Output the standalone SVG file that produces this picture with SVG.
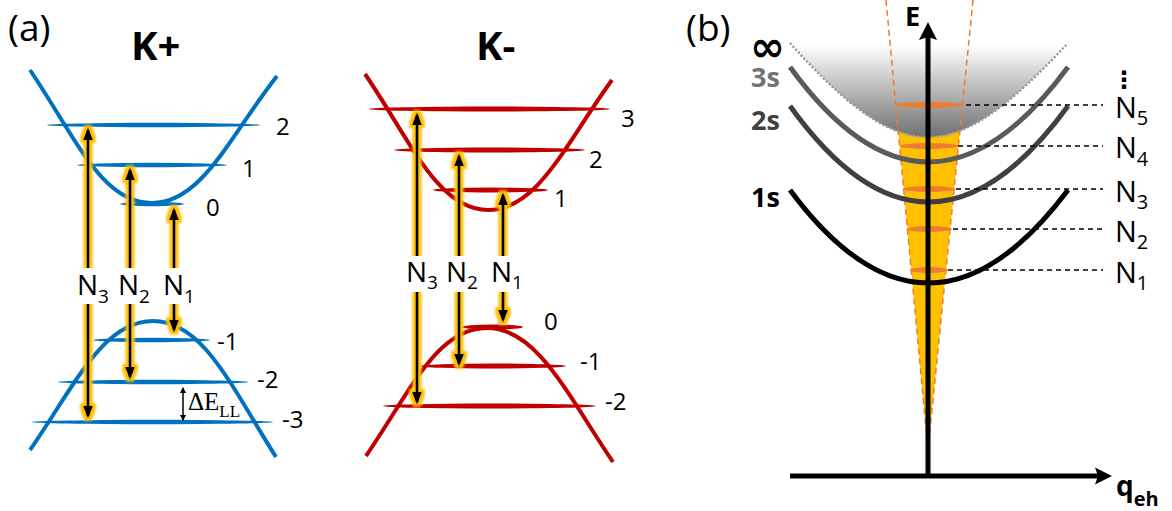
<svg xmlns="http://www.w3.org/2000/svg" width="1172" height="511" viewBox="0 0 1172 511">
<defs>
<style>
text{font-family:"Open Sans","Liberation Sans",sans-serif;fill:#000}
.panel{font-size:37px}
.title{font-size:40px;font-weight:bold}
.lvl{font-size:24px}
.nl{font-size:28px}
.ns{font-size:19px}
.band-b{fill:none;stroke:#0070C0;stroke-width:4}
.band-r{fill:none;stroke:#C00000;stroke-width:4}
.ll-b{fill:#0070C0}
.ll-r{fill:#C00000}
.tr{stroke:#000;stroke-width:3;marker-start:url(#ah);marker-end:url(#ah)}
.lblbg{fill:#fff}
.ex{fill:none;stroke-width:5}
.lead{stroke:#000;stroke-width:1.5;stroke-dasharray:5 4}
.disk{fill:#ED7D31}
.nbl{font-size:29px}
.nbs{font-size:20px}
.sl{font-size:27px;font-weight:bold}
.cone{stroke:#ED7D31;stroke-width:1.5;stroke-dasharray:6 4;fill:none}
</style>
<marker id="ah" markerUnits="userSpaceOnUse" viewBox="0 0 13 10" markerWidth="13" markerHeight="10" refX="10" refY="5" orient="auto-start-reverse"><path d="M0,0 L13,5 L0,10 Z" fill="#000"/></marker>
<marker id="ahs" markerUnits="userSpaceOnUse" viewBox="0 0 6 6" markerWidth="6" markerHeight="6" refX="5" refY="3" orient="auto-start-reverse"><path d="M0,0 L6,3 L0,6 Z" fill="#000"/></marker>
<filter id="glow" filterUnits="userSpaceOnUse" x="0" y="0" width="1172" height="511">
<feMorphology in="SourceAlpha" operator="dilate" radius="2.5" result="d"/>
<feGaussianBlur in="d" stdDeviation="1.3" result="b"/>
<feFlood flood-color="#FFC000" result="f"/>
<feComposite in="f" in2="b" operator="in" result="g"/>
<feMerge><feMergeNode in="g"/><feMergeNode in="SourceGraphic"/></feMerge>
</filter>
<linearGradient id="cont" gradientUnits="userSpaceOnUse" x1="0" y1="45" x2="0" y2="137">
<stop offset="0" stop-color="#fff"/><stop offset="1" stop-color="#707070"/>
</linearGradient>
</defs>
<rect width="1172" height="511" fill="#fff"/>

<!-- Panel (a) -->
<text id="label-a" class="panel" x="8" y="41">(a)</text>

<g id="kplus">
<text class="title" x="131" y="60">K+</text>
<path class="band-b" d="M30,70 C77,140 102,203 152,203 C202,203 230,136 277,76"/>
<path class="band-b" d="M30,450 C75,385 103,321 153,321 C203,321 231,386 276,457"/>
<ellipse class="ll-b" cx="153.5" cy="125" rx="106.5" ry="2.2"/>
<ellipse class="ll-b" cx="152" cy="165" rx="75" ry="2.2"/>
<ellipse class="ll-b" cx="152" cy="204" rx="32" ry="2.2"/>
<ellipse class="ll-b" cx="151.5" cy="340" rx="58.5" ry="2.2"/>
<ellipse class="ll-b" cx="153" cy="382" rx="95" ry="2.2"/>
<ellipse class="ll-b" cx="152.5" cy="422" rx="120.5" ry="2.2"/>
<text class="lvl" x="276" y="135">2</text>
<text class="lvl" x="242" y="177">1</text>
<text class="lvl" x="206" y="216">0</text>
<text class="lvl" x="217" y="350">-1</text>
<text class="lvl" x="257" y="388">-2</text>
<text class="lvl" x="282" y="428">-3</text>
</g>

<g id="kminus">
<text class="title" x="476" y="60">K-</text>
<path class="band-r" d="M365,74 C410,140 438,210 488,210 C538,210 566,143 612,80"/>
<path class="band-r" d="M366,456 C411,390 437,328 487,328 C537,328 567,394 613,462"/>
<ellipse class="ll-r" cx="489.5" cy="109" rx="120.5" ry="2.5"/>
<ellipse class="ll-r" cx="489.5" cy="150" rx="95.5" ry="2.5"/>
<ellipse class="ll-r" cx="490.5" cy="190" rx="57.5" ry="2.5"/>
<ellipse class="ll-r" cx="492.5" cy="327" rx="30.5" ry="2.5"/>
<ellipse class="ll-r" cx="493" cy="366" rx="73" ry="2.5"/>
<ellipse class="ll-r" cx="489.5" cy="406" rx="106.5" ry="2.5"/>
<text class="lvl" x="621" y="127">3</text>
<text class="lvl" x="589" y="168">2</text>
<text class="lvl" x="554" y="207">1</text>
<text class="lvl" x="544" y="330">0</text>
<text class="lvl" x="580" y="370">-1</text>
<text class="lvl" x="605" y="410">-2</text>
</g>

<g id="transitions" filter="url(#glow)">
<line class="tr" x1="88" y1="130" x2="88" y2="416"/>
<line class="tr" x1="130" y1="170" x2="130" y2="377"/>
<line class="tr" x1="174" y1="210" x2="174" y2="330"/>
<line class="tr" x1="417" y1="115" x2="417" y2="402"/>
<line class="tr" x1="459" y1="156" x2="459" y2="364"/>
<line class="tr" x1="503" y1="195" x2="503" y2="320"/>
</g>

<g id="transition-labels">
<rect class="lblbg" x="77" y="268" width="36" height="36"/>
<rect class="lblbg" x="118" y="268" width="35" height="36"/>
<rect class="lblbg" x="163" y="268" width="33" height="36"/>
<rect class="lblbg" x="406" y="256" width="35" height="36"/>
<rect class="lblbg" x="446" y="256" width="35" height="36"/>
<rect class="lblbg" x="491" y="256" width="35" height="36"/>
<text class="nl" x="77" y="295">N<tspan class="ns" y="303">3</tspan></text>
<text class="nl" x="118" y="295">N<tspan class="ns" y="303">2</tspan></text>
<text class="nl" x="163" y="295">N<tspan class="ns" y="303">1</tspan></text>
<text class="nl" x="406" y="282">N<tspan class="ns" y="289">3</tspan></text>
<text class="nl" x="446" y="282">N<tspan class="ns" y="289">2</tspan></text>
<text class="nl" x="491" y="282">N<tspan class="ns" y="289">1</tspan></text>
</g>

<g id="delta-ell">
<line x1="183" y1="388" x2="183" y2="420" stroke="#000" stroke-width="1.5" marker-start="url(#ahs)" marker-end="url(#ahs)"/>
<text x="188" y="410" style="font-family:'Liberation Serif',serif;font-size:25px">ΔE<tspan y="417" style="font-size:17px">LL</tspan></text>
</g>

<!-- Panel (b) -->
<text id="label-b" class="panel" x="686" y="41">(b)</text>

<g id="continuum">
<path d="M790,43 C850,110 890,137 928,137 C966,137 1006,110 1068,43 Z" fill="url(#cont)"/>
</g>
<g id="light-cone">
<polygon points="897.7,125 960.5,125 928,450" fill="#FFC000"/>
<path d="M790,43 C850,110 890,137 928,137 C966,137 1006,110 1068,43" fill="url(#cont)" stroke="none"/>
<path d="M790,43 C850,110 890,137 928,137 C966,137 1006,110 1068,43" fill="none" stroke="#9a9a9a" stroke-width="2.5" stroke-dasharray="2 2"/>
<line class="cone" x1="886" y1="0" x2="928" y2="450"/>
<line class="cone" x1="973" y1="0" x2="928" y2="450"/>
</g>

<g id="exciton-3s"><path class="ex" stroke="#5a5a5a" d="M790,67 Q928,257 1068,67"/><text class="sl" x="751" y="87" style="fill:#737373">3s</text></g>
<g id="exciton-2s"><path class="ex" stroke="#404040" d="M790,106 Q928,298 1068,106"/><text class="sl" x="751" y="130" style="fill:#404040">2s</text></g>
<g id="exciton-1s"><path class="ex" stroke="#000" d="M790,190 Q928,376 1068,190"/><text class="sl" x="751" y="207">1s</text></g>
<text id="inf" x="750" y="61" style="font-family:'DejaVu Sans',sans-serif;font-size:42px;font-weight:bold">∞</text>

<g id="crossings">
<ellipse class="disk" cx="929" cy="105" rx="34" ry="3"/>
<ellipse class="disk" cx="929" cy="146" rx="29" ry="3"/>
<ellipse class="disk" cx="929" cy="189" rx="26" ry="3"/>
<ellipse class="disk" cx="929.5" cy="229" rx="22.5" ry="3"/>
<ellipse class="disk" cx="929" cy="270" rx="19" ry="3"/>
</g>

<g id="leaders">
<line class="lead" x1="966" y1="105" x2="1103" y2="105"/>
<line class="lead" x1="958" y1="146" x2="1103" y2="146"/>
<line class="lead" x1="956" y1="189" x2="1103" y2="189"/>
<line class="lead" x1="953" y1="229" x2="1103" y2="229"/>
<line class="lead" x1="948" y1="270" x2="1103" y2="270"/>
</g>

<g id="n-labels">
<text class="nbl" x="1115" y="118">N<tspan class="nbs" y="125">5</tspan></text>
<text class="nbl" x="1115" y="158">N<tspan class="nbs" y="166">4</tspan></text>
<text class="nbl" x="1115" y="202">N<tspan class="nbs" y="209">3</tspan></text>
<text class="nbl" x="1115" y="242">N<tspan class="nbs" y="249">2</tspan></text>
<text class="nbl" x="1115" y="283">N<tspan class="nbs" y="290">1</tspan></text>
<text x="1124" y="88" text-anchor="middle" style="font-family:'DejaVu Sans',sans-serif;font-size:24px;font-weight:bold">⋮</text>
</g>

<g id="axes">
<line x1="928" y1="478" x2="928" y2="36" stroke="#000" stroke-width="5"/>
<path d="M928,22 L937,40 L928,37 L919,40 Z" fill="#000"/>
<line x1="790" y1="476" x2="1098" y2="476" stroke="#000" stroke-width="5"/>
<path d="M1112,476 L1095,467.5 L1098,476 L1095,484.5 Z" fill="#000"/>
<text x="905" y="26" style="font-size:27px;font-weight:bold">E</text>
<text x="1116" y="496" style="font-size:28px;font-weight:bold">q<tspan y="506" style="font-size:20px">eh</tspan></text>
</g>
</svg>
